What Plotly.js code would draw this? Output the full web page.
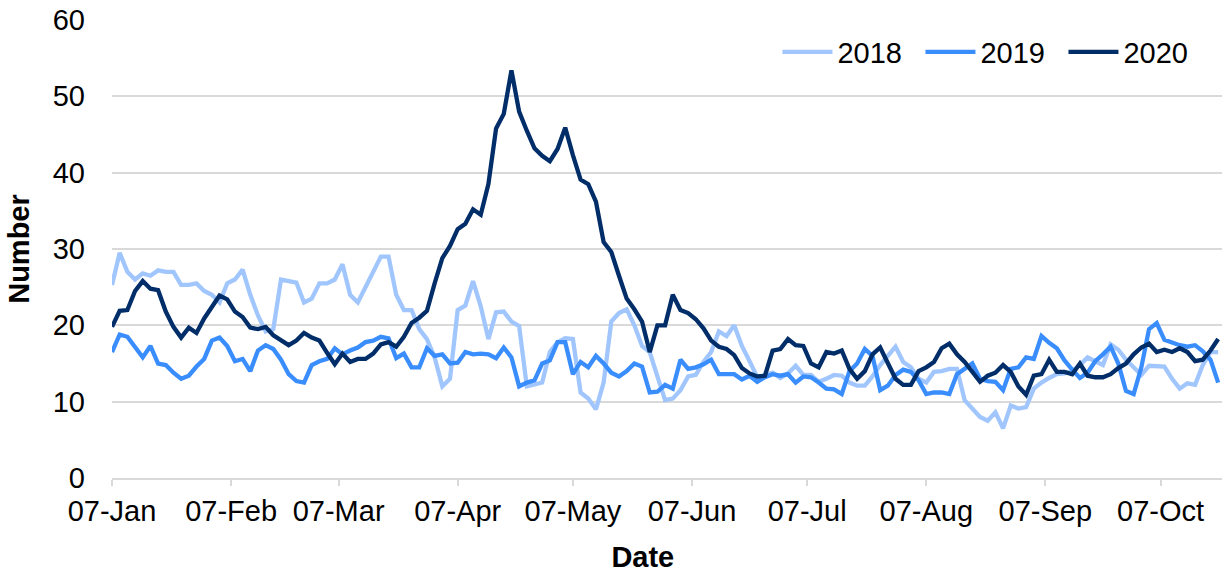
<!DOCTYPE html>
<html>
<head>
<meta charset="utf-8">
<script src="https://cdn.plot.ly/plotly-3.0.1.min.js"></script>
<style>html,body{margin:0;padding:0;background:#fff;}#chart{width:1224px;height:573px;}</style>
</head>
<body>
<div id="chart"></div>
<script>
// Series names
const seriesNames = ["2018", "2019", "2020"];
// Start date of the daily series (every 2nd day is sampled)
const startDate = "2019-01-07";
const stepDays = 2;

const values2018 = [
  25.3, 29.5, 27, 26, 26.8, 26.5, 27.2, 27, 27, 25.3,
  25.3, 25.5, 24.5, 24, 23, 25.5, 26, 27.3, 24, 21.3,
  19.2, 19.5, 26, 25.8, 25.6, 23, 23.5, 25.5, 25.5, 26,
  28, 24, 23, 25, 27, 29, 29, 24, 22, 22,
  19.5, 18.2, 15.8, 12, 13, 22, 22.6, 25.8, 22.5, 18.2,
  21.7, 21.8, 20.5, 19.9, 12, 12.3, 12.5, 16.5, 17.8, 18.3,
  18.2, 11.2, 10.4, 9, 12.5, 20.5, 21.6, 22.1, 20, 17.3,
  16.5, 13.3, 10.2, 10.4, 11.5, 13.3, 13.5, 15.2, 16.5, 19.2,
  18.6, 20, 17.3, 15.3, 13.2, 13.5, 13.8, 13.1, 13.7, 14.7,
  13.5, 13.5, 12.6, 13, 13.5, 13.4, 12.5, 12.1, 12.1, 13.3,
  14.8, 16, 17.2, 15.2, 14.5, 13, 12.5, 13.9, 14, 14.3,
  14.3, 10.2, 9, 8, 7.5, 8.6, 6.5, 9.5, 9.1, 9.3,
  11.7, 12.5, 13.1, 13.6, 13.7, 14, 14.8, 15.8, 15.3, 14.8,
  17.5, 16.8, 15.5, 14.5, 13.5, 14.7, 14.7, 14.6, 13, 11.7,
  12.4, 12.2, 14.8, 16.5, 16.5
];

const values2019 = [
  16.5, 18.8, 18.5, 17.1, 15.8, 17.3, 15, 14.8, 13.8, 13,
  13.4, 14.6, 15.6, 18, 18.4, 17.3, 15.3, 15.6, 14, 16.7,
  17.4, 16.9, 15.5, 13.6, 12.7, 12.5, 14.8, 15.3, 15.6, 17,
  16.2, 16.7, 17.1, 17.8, 18, 18.5, 18.3, 15.7, 16.3, 14.5,
  14.5, 17, 16, 16.2, 15, 15.1, 16.5, 16.2, 16.3, 16.2,
  15.7, 17.1, 15.8, 12, 12.5, 12.8, 15, 15.4, 17.8, 17.8,
  13.6, 15.2, 14.5, 16, 15, 13.8, 13.3, 14, 15, 14.6,
  11.2, 11.3, 12.2, 11.7, 15.5, 14.3, 14.5, 14.9, 15.5, 13.6,
  13.6, 13.6, 12.9, 13.4, 12.6, 13.2, 13.6, 13.4, 13.6, 12.5,
  13.3, 13.2, 12.5, 11.7, 11.6, 11, 14, 15, 16.9, 16,
  11.5, 12.1, 13.5, 14.2, 13.9, 12.8, 11, 11.2, 11.2, 11,
  13.6, 14.3, 15, 13, 12.7, 12.6, 11.5, 14.3, 14.5, 15.8,
  15.6, 18.6, 17.7, 17, 15.4, 14.2, 13.1, 13.8, 15.3, 16.2,
  17.2, 15, 11.4, 11, 14.5, 19.5, 20.3, 18.1, 17.7, 17.4,
  17.2, 17.4, 16.6, 15.5, 12.5
];

const values2020 = [
  19.8, 21.9, 22, 24.5, 25.8, 24.8, 24.6, 21.8, 19.8, 18.4,
  19.7, 19, 20.9, 22.3, 23.9, 23.4, 21.8, 21.1, 19.7, 19.5,
  19.8, 18.7, 18, 17.4, 18, 19, 18.4, 18, 16.4, 14.9,
  16.3, 15.2, 15.6, 15.6, 16.3, 17.5, 17.8, 17.2, 18.5, 20.3,
  21, 21.9, 25.5, 28.8, 30.4, 32.6, 33.3, 35.2, 34.5, 38.5,
  45.8, 47.7, 53.4, 48, 45.5, 43.2, 42.2, 41.5, 43.1, 45.9,
  42.3, 39.1, 38.5, 36.2, 30.9, 29.6, 26.5, 23.5, 22.1, 20.5,
  16.5, 20, 20, 24, 22, 21.6, 20.8, 19.6, 18, 17.2,
  16.9, 16.1, 14.4, 13.7, 13.3, 13.4, 16.7, 16.9, 18.2, 17.4,
  17.3, 15, 14.5, 16.5, 16.3, 16.7, 14.3, 13, 14, 16.2,
  17.1, 15, 13, 12.2, 12.2, 14, 14.5, 15.2, 17, 17.6,
  16.2, 15.2, 14, 12.6, 13.4, 13.8, 14.8, 13.9, 12, 10.9,
  13.4, 13.6, 15.5, 13.9, 13.9, 13.6, 15, 13.4, 13.2, 13.2,
  13.6, 14.4, 15, 16.2, 17.1, 17.6, 16.5, 16.8, 16.5, 17,
  16.5, 15.3, 15.5, 16.7, 18.2
];

const tickDates = ["2019-01-07","2019-02-07","2019-03-07","2019-04-07","2019-05-07",
                   "2019-06-07","2019-07-07","2019-08-07","2019-09-07","2019-10-07"];
const tickLabels = ["07-Jan","07-Feb","07-Mar","07-Apr","07-May","07-Jun","07-Jul","07-Aug","07-Sep","07-Oct"];
const xRange = ["2019-01-07", "2019-10-23"];

const colors = ["#a0c6fd", "#3a8dfd", "#012d69"];

function makeDates(n) {
  const t0 = Date.parse(startDate + "T00:00:00Z");
  const out = [];
  for (let i = 0; i < n; i++) {
    out.push(new Date(t0 + i * stepDays * 86400000).toISOString().slice(0, 10));
  }
  return out;
}

const allValues = [values2018, values2019, values2020];
const traces = allValues.map((vals, k) => ({
  type: "scatter",
  mode: "lines",
  name: seriesNames[k],
  x: makeDates(vals.length),
  y: vals,
  line: { color: colors[k], width: 4.3 }
}));

const FONT = "Liberation Sans, Arial, sans-serif";
const FS = 29;

const layout = {
  width: 1224,
  height: 573,
  margin: { l: 112, r: 2, t: 20, b: 95 },
  paper_bgcolor: "#ffffff",
  plot_bgcolor: "#ffffff",
  font: { family: FONT, size: FS, color: "#000000" },
  showlegend: true,
  legend: {
    orientation: "h",
    x: 0.986, xanchor: "right",
    y: 0.93, yanchor: "middle",
    font: { family: FONT, size: FS, color: "#000000" },
    bgcolor: "rgba(0,0,0,0)",
    itemwidth: 50,
    entrywidth: 78,
    entrywidthmode: "pixels",
    traceorder: "normal"
  },
  xaxis: {
    type: "date",
    range: xRange,
    tickvals: tickDates,
    ticktext: tickLabels,
    tickfont: { family: FONT, size: FS, color: "#000000" },
    showgrid: false,
    showline: true,
    linecolor: "#d9d9d9",
    linewidth: 2,
    ticks: "outside",
    ticklen: 6,
    tickcolor: "#d9d9d9",
    tickwidth: 2,
    zeroline: false,
    title: { text: "<b>Date</b>&nbsp;&nbsp;&nbsp;&nbsp;&nbsp;&nbsp;", font: { family: FONT, size: FS, color: "#000000" }, standoff: 22 }
  },
  yaxis: {
    range: [0, 60],
    dtick: 10,
    tick0: 0,
    tickfont: { family: FONT, size: FS, color: "#000000" },
    showgrid: true,
    gridcolor: "#d9d9d9",
    gridwidth: 2,
    showline: false,
    zeroline: false,
    ticks: "",
    ticklabelstandoff: 26,
    title: { text: "<b>Number</b>", font: { family: FONT, size: FS, color: "#000000" }, standoff: 14 }
  }
};

Plotly.newPlot("chart", traces, layout, { displayModeBar: false, staticPlot: true });
</script>
</body>
</html>
